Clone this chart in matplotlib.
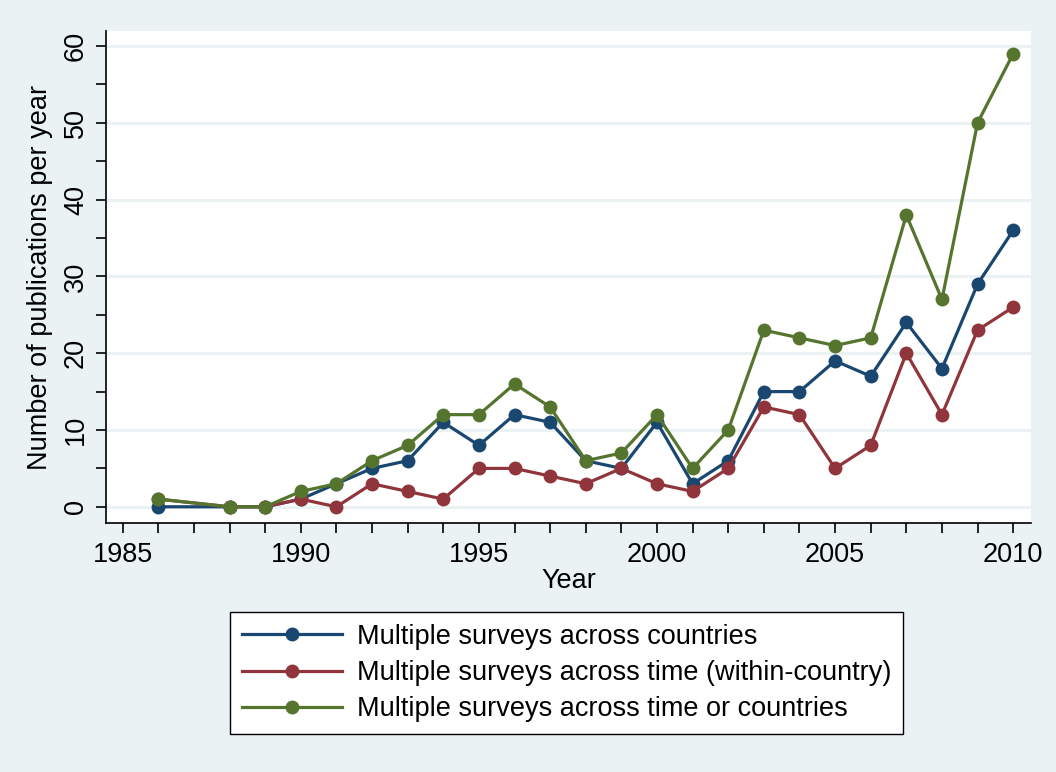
import matplotlib
matplotlib.use("Agg")
import matplotlib.pyplot as plt
from matplotlib.ticker import MultipleLocator

plt.rcParams['font.family'] = ['Liberation Sans', 'DejaVu Sans']

years = [1986, 1988, 1989, 1990, 1991, 1992, 1993, 1994, 1995, 1996, 1997, 1998,
         1999, 2000, 2001, 2002, 2003, 2004, 2005, 2006, 2007, 2008, 2009, 2010]
across_countries = [0, 0, 0, 1, 3, 5, 6, 11, 8, 12, 11, 6,
                    5, 11, 3, 6, 15, 15, 19, 17, 24, 18, 29, 36]
across_time = [1, 0, 0, 1, 0, 3, 2, 1, 5, 5, 4, 3,
               5, 3, 2, 5, 13, 12, 5, 8, 20, 12, 23, 26]
time_or_countries = [1, 0, 0, 2, 3, 6, 8, 12, 12, 16, 13, 6,
                     7, 12, 5, 10, 23, 22, 21, 22, 38, 27, 50, 59]

series_labels = ["Multiple surveys across countries",
                 "Multiple surveys across time (within-country)",
                 "Multiple surveys across time or countries"]
series_colors = ["#1a476f", "#90353b", "#55752f"]

bg = "#EAF2F3"
W, H = 1056, 772
fig = plt.figure(figsize=(W / 100, H / 100), dpi=100, facecolor=bg)
ax = fig.add_axes([106.3 / W, 1 - 523.3 / H, (1031 - 106.3) / W, (523.3 - 30.7) / H])
ax.set_facecolor("white")

for vals, lab, col in zip([across_countries, across_time, time_or_countries],
                          series_labels, series_colors):
    ax.plot(years, vals, color=col, lw=2.3, marker="o", markersize=10,
            markeredgewidth=0, label=lab, zorder=3)

ax.set_xlim(1984.54, 2010.5)
ax.set_ylim(-2.15, 62.0)

ax.xaxis.set_major_locator(MultipleLocator(5))
ax.xaxis.set_minor_locator(MultipleLocator(1))
ax.yaxis.set_major_locator(MultipleLocator(10))
ax.yaxis.set_minor_locator(MultipleLocator(5))

for axis in (ax.xaxis, ax.yaxis):
    axis.set_tick_params(which="both", direction="out", length=7.5, width=1.2,
                         color="black")
ax.tick_params(axis="x", which="major", labelsize=19.5, pad=6)
ax.tick_params(axis="y", which="major", labelsize=19.5, pad=5)
for t in ax.get_yticklabels():
    t.set_rotation(90)
    t.set_va("center")

ax.grid(axis="y", which="major", color=bg, lw=2.2, zorder=0)
ax.set_axisbelow(True)

for s in ("top", "right"):
    ax.spines[s].set_visible(False)
for s in ("left", "bottom"):
    ax.spines[s].set_linewidth(1.2)
    ax.spines[s].set_color("black")

ax.set_xlabel("Year", fontsize=19.5, labelpad=0)
ax.set_ylabel("Number of publications per year", fontsize=19.5, labelpad=7)

leg = fig.legend(loc="center", bbox_to_anchor=(566.5 / W, 1 - 673 / H),
                 fontsize=19.5, frameon=True, fancybox=False, edgecolor="black",
                 framealpha=1, handlelength=3.7, handletextpad=0.55,
                 labelspacing=0.38, borderpad=0.45, borderaxespad=0)
leg.get_frame().set_linewidth(1.0)
leg.get_frame().set_facecolor("white")

fig.savefig("out.png", dpi=100, facecolor=bg)
